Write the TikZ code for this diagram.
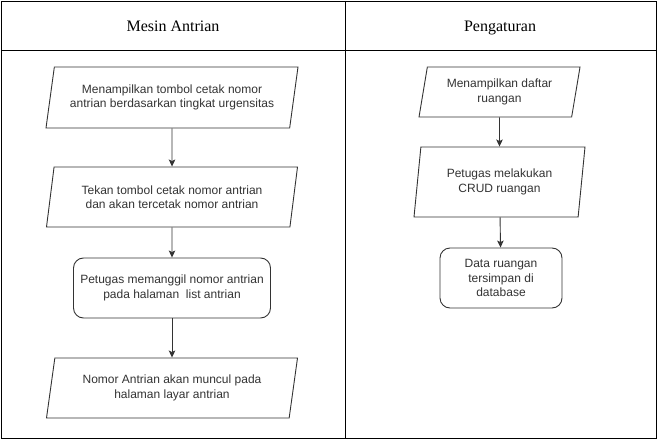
\documentclass[tikz,border=0pt]{standalone}
\usepackage{fontspec}
\setmainfont{Liberation Serif}
\newfontfamily\boxfont{Liberation Sans}
\usepackage{xcolor}
\usepackage{tikz}
\usetikzlibrary{shapes.geometric,arrows.meta}
\definecolor{ink}{HTML}{333333}
\definecolor{rule}{HTML}{000000}
\tikzset{
  frame/.style={draw=rule, line width=0.9pt},
  head/.style={text=black, anchor=base, font=\fontsize{16}{19}\selectfont},
  io/.style={trapezium, trapezium left angle=72, trapezium right angle=108,
    trapezium stretches body, draw=ink, line width=0.9pt, text=ink,
    align=center, inner sep=0pt,
    font=\boxfont\fontsize{12}{14.5}\selectfont},
  proc/.style={rectangle, rounded corners=10pt, draw=ink, line width=0.9pt,
    text=ink, align=center, inner sep=0pt,
    font=\boxfont\fontsize{12}{14.5}\selectfont},
  flow/.style={draw=ink, line width=0.9pt, -{Stealth[length=7pt,width=6.5pt,inset=1.5pt]}}
}
\begin{document}
\begin{tikzpicture}[x=1pt,y=-1pt]
  \useasboundingbox (0,0) rectangle (658,441);

  % table
  \draw[frame] (1,1) rectangle (656,438);
  \draw[frame] (1,50) -- (656,50);
  \draw[frame] (345,1) -- (345,438);
  \node[head] (hMesin) at (173,32) {Mesin Antrian};
  \node[head] (hAtur) at (500,32) {Pengaturan};

  % Mesin Antrian
  \node[io, minimum width=252pt, minimum height=61pt] (tampil) at (172,97.5)
    {Menampilkan tombol cetak nomor\\antrian berdasarkan tingkat urgensitas};
  \node[io, minimum width=251pt, minimum height=60pt] (tekan) at (172,197)
    {Tekan tombol cetak nomor antrian\\dan akan tercetak nomor antrian};
  \node[proc, minimum width=197pt, minimum height=60pt] (panggil) at (172,288)
    {Petugas memanggil nomor antrian\\pada halaman\ \ list antrian};
  \node[io, minimum width=251pt, minimum height=60pt] (muncul) at (172,388)
    {Nomor Antrian akan muncul pada\\halaman layar antrian};

  \draw[flow] (tampil) -- (tekan);
  \draw[flow] (tekan) -- (panggil);
  \draw[flow] (panggil) -- (muncul);

  % Pengaturan
  \node[io, minimum width=161pt, minimum height=50pt] (daftar) at (499.5,92)
    {Menampilkan daftar\\ruangan};
  \node[io, trapezium left angle=75, trapezium right angle=105,
    minimum width=171pt, minimum height=70pt] (crud) at (499.5,182)
    {Petugas melakukan\\CRUD ruangan};
  \node[proc, minimum width=122pt, minimum height=60pt] (simpan) at (501,278)
    {Data ruangan\\tersimpan di\\database};

  \draw[flow] (daftar) -- (crud);
  \draw[flow] (crud) -- (simpan);
\end{tikzpicture}
\end{document}
